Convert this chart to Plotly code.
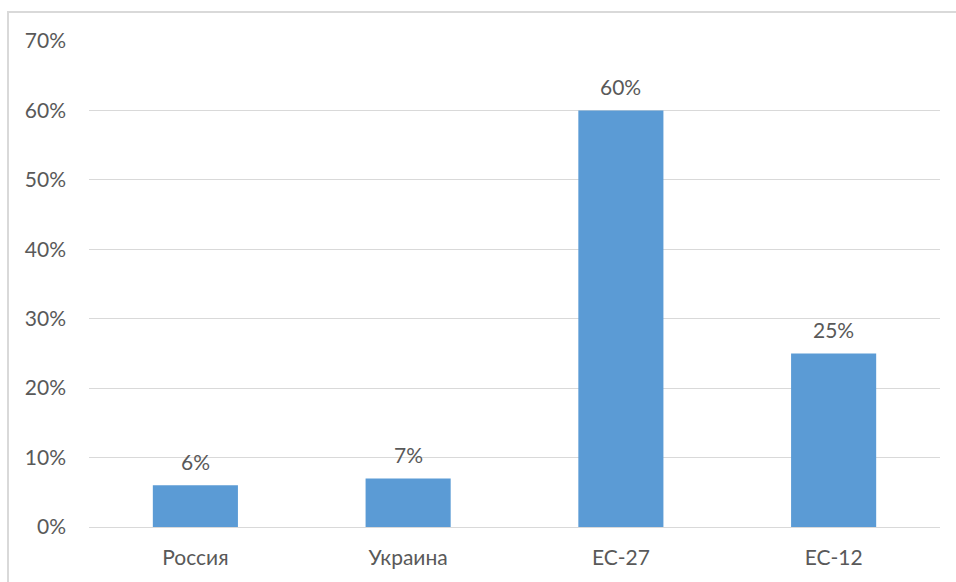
import plotly.graph_objects as go

categories = ["Россия", "Украина", "ЕС-27", "ЕС-12"]
shares = [0.06, 0.07, 0.60, 0.25]
y_ticks = [0, 0.1, 0.2, 0.3, 0.4, 0.5, 0.6, 0.7]
y_tick_labels = ["0%", "10%", "20%", "30%", "40%", "50%", "60%", "70%"]

W, H = 956, 582
ML, MR, MT, MB = 89, 16, 41, 55
pw, ph = W - ML - MR, H - MT - MB

font_family = "Lato, Open Sans, sans-serif"
text_color = "#595959"
fs = 21

fig = go.Figure(
    go.Bar(
        x=categories,
        y=shares,
        marker=dict(color="#5B9BD5", line=dict(width=0)),
    )
)

# value labels above each bar
for cat, v in zip(categories, shares):
    fig.add_annotation(
        x=cat, y=v, text=f"{v:.0%}",
        showarrow=False, yanchor="bottom", yshift=9,
        font=dict(family=font_family, size=fs, color=text_color),
    )

# outer chart frame, partly running off the page on the right and bottom
fig.add_shape(
    type="rect",
    xref="paper", yref="paper",
    x0=(8 - ML) / pw, x1=(W + 10 - ML) / pw,
    y0=-(H + 10 - MT - ph) / ph, y1=1 + (MT - 12) / ph,
    line=dict(color="#D9D9D9", width=2),
    fillcolor="rgba(0,0,0,0)",
    layer="below",
)

fig.update_layout(
    width=W, height=H,
    margin=dict(l=ML, r=MR, t=MT, b=MB),
    paper_bgcolor="white",
    plot_bgcolor="white",
    bargap=0.6,
    showlegend=False,
    font=dict(family=font_family, size=fs, color=text_color),
    xaxis=dict(
        showgrid=False,
        showline=False,
        ticks="",
        ticklabelstandoff=16,
        tickfont=dict(family=font_family, size=fs, color=text_color),
    ),
    yaxis=dict(
        range=[0, 0.7],
        tickvals=y_ticks,
        ticktext=y_tick_labels,
        showgrid=True,
        gridcolor="#D9D9D9",
        gridwidth=1,
        zeroline=True,
        zerolinecolor="#D9D9D9",
        zerolinewidth=1,
        showline=False,
        ticks="",
        ticklabelstandoff=22,
        tickfont=dict(family=font_family, size=fs, color=text_color),
    ),
)

fig.write_html("out.html")
